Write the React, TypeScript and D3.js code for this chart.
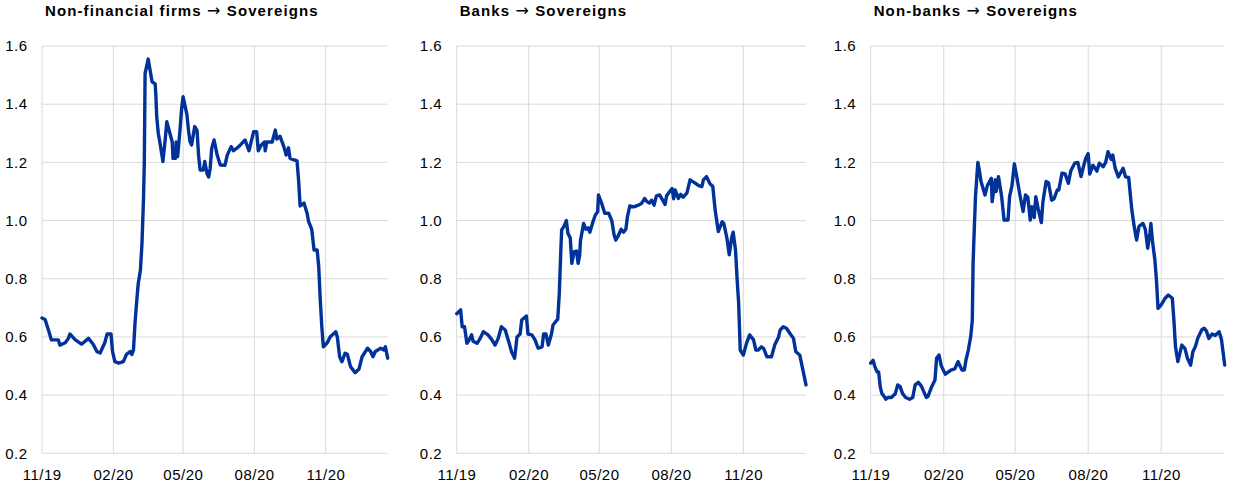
import React from 'react';
import * as d3 from 'd3';

// days since 2019-11-01, value
const START = new Date(2019, 10, 1);
const LAST_DAY = 446;

const panelTitles = ['Non-financial firms → Sovereigns', 'Banks → Sovereigns', 'Non-banks → Sovereigns'];
const yTicks = [0.2, 0.4, 0.6, 0.8, 1.0, 1.2, 1.4, 1.6];
const xTickDates = [new Date(2019, 10, 1), new Date(2020, 1, 1), new Date(2020, 4, 1), new Date(2020, 7, 1), new Date(2020, 10, 1)];
const xTickLabels = ['11/19', '02/20', '05/20', '08/20', '11/20'];

const nonFinancialFirms: [number, number][] = [
  [0, 0.665], [4, 0.66], [9, 0.618], [12, 0.59], [21, 0.59], [23, 0.572], [30, 0.58], [34, 0.595], [36, 0.61],
  [43, 0.59], [51, 0.575], [60, 0.595], [66, 0.575], [71, 0.549], [75, 0.545], [81, 0.58], [84, 0.61], [89, 0.61],
  [91, 0.55], [94, 0.515], [99, 0.51], [105, 0.515], [109, 0.54], [114, 0.55], [116, 0.54], [118, 0.555],
  [120, 0.647], [122, 0.716], [124, 0.78], [127, 0.83], [129, 0.922], [131, 1.08], [132, 1.2], [133, 1.506],
  [137, 1.555], [142, 1.477], [146, 1.47], [147, 1.426], [148, 1.357], [150, 1.3], [152, 1.27], [156, 1.203],
  [159, 1.28], [161, 1.34], [165, 1.3], [168, 1.27], [169, 1.214], [172, 1.214], [173, 1.27], [175, 1.22],
  [178, 1.31], [180, 1.38], [182, 1.426], [187, 1.363], [189, 1.31], [191, 1.271], [193, 1.26], [197, 1.323],
  [200, 1.31], [202, 1.225], [204, 1.174], [208, 1.174], [210, 1.203], [213, 1.16], [215, 1.15], [217, 1.18],
  [219, 1.249], [222, 1.277], [226, 1.225], [230, 1.191], [236, 1.19], [239, 1.225], [244, 1.254], [247, 1.24],
  [252, 1.25], [256, 1.26], [262, 1.277], [267, 1.24], [273, 1.305], [277, 1.305], [279, 1.24], [283, 1.26],
  [287, 1.27], [288, 1.24], [290, 1.27], [297, 1.27], [301, 1.311], [303, 1.28], [307, 1.29], [312, 1.254],
  [315, 1.225], [318, 1.25], [320, 1.214], [329, 1.205], [331, 1.14], [333, 1.05], [338, 1.06], [342, 1.025],
  [344, 0.996], [348, 0.97], [351, 0.899], [355, 0.899], [357, 0.842], [359, 0.727], [361, 0.635], [363, 0.566],
  [368, 0.58], [372, 0.601], [379, 0.618], [381, 0.6], [384, 0.532], [387, 0.515], [391, 0.544], [394, 0.54],
  [398, 0.498], [404, 0.477], [409, 0.49], [413, 0.532], [420, 0.561], [424, 0.55], [427, 0.532], [430, 0.55],
  [437, 0.561], [441, 0.555], [443, 0.566], [446, 0.527],
];

const banks: [number, number][] = [
  [0, 0.68], [5, 0.693], [7, 0.635], [10, 0.635], [13, 0.578], [15, 0.585], [19, 0.607], [21, 0.585], [26, 0.578],
  [30, 0.595], [34, 0.618], [40, 0.607], [45, 0.59], [49, 0.572], [53, 0.595], [57, 0.635], [62, 0.624], [67, 0.578],
  [70, 0.549], [74, 0.527], [77, 0.6], [81, 0.61], [83, 0.658], [89, 0.672], [91, 0.61], [96, 0.607], [100, 0.59],
  [104, 0.561], [109, 0.566], [111, 0.61], [114, 0.61], [117, 0.572], [121, 0.61], [123, 0.641], [128, 0.658],
  [129, 0.66], [131, 0.75], [133, 0.9], [134, 0.968], [137, 0.98], [140, 1.0], [142, 0.956], [145, 0.94],
  [147, 0.853], [150, 0.893], [153, 0.895], [155, 0.853], [157, 0.88], [158, 0.93], [162, 0.99], [165, 0.97],
  [168, 0.975], [170, 0.96], [174, 0.996], [177, 1.019], [180, 1.03], [181, 1.088], [185, 1.06], [189, 1.025],
  [194, 1.025], [198, 1.0], [201, 0.95], [203, 0.933], [206, 0.946], [210, 0.97], [213, 0.96], [216, 0.97],
  [218, 1.013], [221, 1.05], [226, 1.047], [232, 1.053], [236, 1.059], [240, 1.076], [243, 1.065], [246, 1.06],
  [249, 1.07], [252, 1.053], [255, 1.085], [259, 1.088], [263, 1.07], [266, 1.055], [268, 1.085], [272, 1.1],
  [275, 1.11], [277, 1.075], [279, 1.105], [283, 1.076], [286, 1.09], [289, 1.08], [294, 1.095], [298, 1.14],
  [305, 1.128], [309, 1.12], [313, 1.117], [315, 1.14], [319, 1.151], [323, 1.128], [327, 1.117], [330, 1.036],
  [334, 0.962], [339, 0.996], [341, 0.99], [345, 0.94], [348, 0.882], [351, 0.94], [353, 0.96], [356, 0.899],
  [358, 0.8], [360, 0.716], [362, 0.555], [366, 0.538], [370, 0.578], [374, 0.607], [379, 0.59], [382, 0.555],
  [385, 0.555], [389, 0.566], [392, 0.56], [396, 0.532], [402, 0.532], [406, 0.572], [411, 0.6], [413, 0.624],
  [417, 0.635], [421, 0.63], [426, 0.61], [430, 0.595], [433, 0.549], [438, 0.538], [446, 0.435],
];

const nonBanks: [number, number][] = [
  [0, 0.51], [3, 0.52], [5, 0.5], [8, 0.48], [10, 0.48], [12, 0.429], [14, 0.406], [17, 0.395], [19, 0.386],
  [22, 0.392], [26, 0.392], [31, 0.405], [34, 0.435], [37, 0.43], [40, 0.406], [44, 0.392], [49, 0.386],
  [53, 0.392], [56, 0.435], [60, 0.444], [64, 0.43], [70, 0.392], [72, 0.395], [77, 0.43], [81, 0.452],
  [83, 0.527], [86, 0.538], [89, 0.5], [94, 0.472], [98, 0.48], [101, 0.486], [106, 0.49], [110, 0.515],
  [115, 0.486], [118, 0.486], [120, 0.52], [123, 0.555], [126, 0.601], [128, 0.658], [129, 0.853], [130, 0.933],
  [132, 1.082], [135, 1.2], [137, 1.17], [139, 1.134], [144, 1.088], [147, 1.12], [152, 1.145], [153, 1.065],
  [157, 1.14], [158, 1.1], [161, 1.151], [165, 1.082], [168, 1.002], [173, 1.002], [175, 1.082], [178, 1.12],
  [181, 1.195], [184, 1.151], [188, 1.088], [192, 1.031], [195, 1.088], [198, 1.08], [201, 1.002], [203, 1.048],
  [206, 1.01], [208, 1.082], [211, 1.04], [215, 0.993], [217, 1.065], [221, 1.134], [224, 1.13], [228, 1.07],
  [231, 1.075], [235, 1.105], [237, 1.105], [241, 1.163], [245, 1.16], [249, 1.128], [252, 1.17], [257, 1.197],
  [261, 1.2], [265, 1.151], [268, 1.185], [271, 1.214], [274, 1.23], [276, 1.16], [280, 1.19], [285, 1.17],
  [288, 1.197], [293, 1.185], [296, 1.2], [299, 1.237], [303, 1.21], [305, 1.225], [308, 1.18], [312, 1.15],
  [315, 1.165], [318, 1.18], [321, 1.15], [325, 1.148], [329, 1.036], [332, 0.979], [335, 0.933], [338, 0.98],
  [343, 0.99], [346, 0.97], [349, 0.905], [352, 0.96], [353, 0.99], [355, 0.93], [358, 0.865], [360, 0.796],
  [362, 0.698], [366, 0.71], [371, 0.733], [375, 0.744], [380, 0.733], [382, 0.658], [384, 0.566], [387, 0.515],
  [392, 0.572], [396, 0.56], [399, 0.527], [403, 0.503], [406, 0.55], [409, 0.566], [412, 0.595], [417, 0.624],
  [420, 0.63], [423, 0.62], [426, 0.595], [430, 0.61], [434, 0.605], [439, 0.618], [442, 0.59], [446, 0.503],
];

const seriesList = [nonFinancialFirms, banks, nonBanks];

const panelLeft = [42, 456.7, 870.7];
const panelRight = [387.7, 806, 1224.7];
const TOP = 46;
const BOTTOM = 453.3;
const FONT = '"Liberation Sans", Arial, sans-serif';

function Title({ x, text }: { x: number; text: string }) {
  const parts = text.split('→');
  return (
    <text x={x} y={16} fontFamily={FONT} fontWeight="bold" fontSize={15} letterSpacing={1.1} fill="#000">
      {parts[0]}
      <tspan fontFamily='"DejaVu Sans", sans-serif' fontWeight="normal" fontSize={16}>→</tspan>
      {parts[1]}
    </text>
  );
}

function Panel({ idx }: { idx: number }) {
  const left = panelLeft[idx];
  const right = panelRight[idx];
  const x = d3.scaleTime().domain([START, d3.timeDay.offset(START, LAST_DAY)]).range([left, right]);
  const y = d3.scaleLinear().domain([0.2, 1.6]).range([BOTTOM, TOP]);
  const line = d3
    .line<[number, number]>()
    .x((d) => x(d3.timeDay.offset(START, d[0])))
    .y((d) => y(d[1]));
  return (
    <g>
      <Title x={left + 3} text={panelTitles[idx]} />
      {yTicks.map((t) => (
        <line key={'h' + t} x1={left} x2={right} y1={y(t)} y2={y(t)} stroke="#d9d9d9" strokeWidth={1} />
      ))}
      {xTickDates.map((t, i) => (
        <line key={'v' + i} x1={x(t)} x2={x(t)} y1={TOP} y2={BOTTOM} stroke="#d9d9d9" strokeWidth={1} />
      ))}
      {yTicks.map((t) => (
        <text key={'yl' + t} x={left - 14.5} y={y(t)} dy="0.35em" textAnchor="end" fontFamily={FONT} fontSize={15} letterSpacing={0.5} fill="#000">
          {t.toFixed(1)}
        </text>
      ))}
      {xTickDates.map((t, i) => (
        <text key={'xl' + i} x={x(t) + 0.25} y={480} textAnchor="middle" fontFamily={FONT} fontSize={15} letterSpacing={0.5} fill="#000">
          {xTickLabels[i]}
        </text>
      ))}
      <path d={line(seriesList[idx]) || ''} fill="none" stroke="#003299" strokeWidth={3.4} strokeLinejoin="round" strokeLinecap="round" />
    </g>
  );
}

export default function App() {
  return (
    <svg width={1240} height={492} style={{ position: 'absolute', left: 0, top: 0, background: '#fff' }}>
      <rect width={1240} height={492} fill="#fff" />
      {[0, 1, 2].map((i) => (
        <Panel key={i} idx={i} />
      ))}
    </svg>
  );
}
